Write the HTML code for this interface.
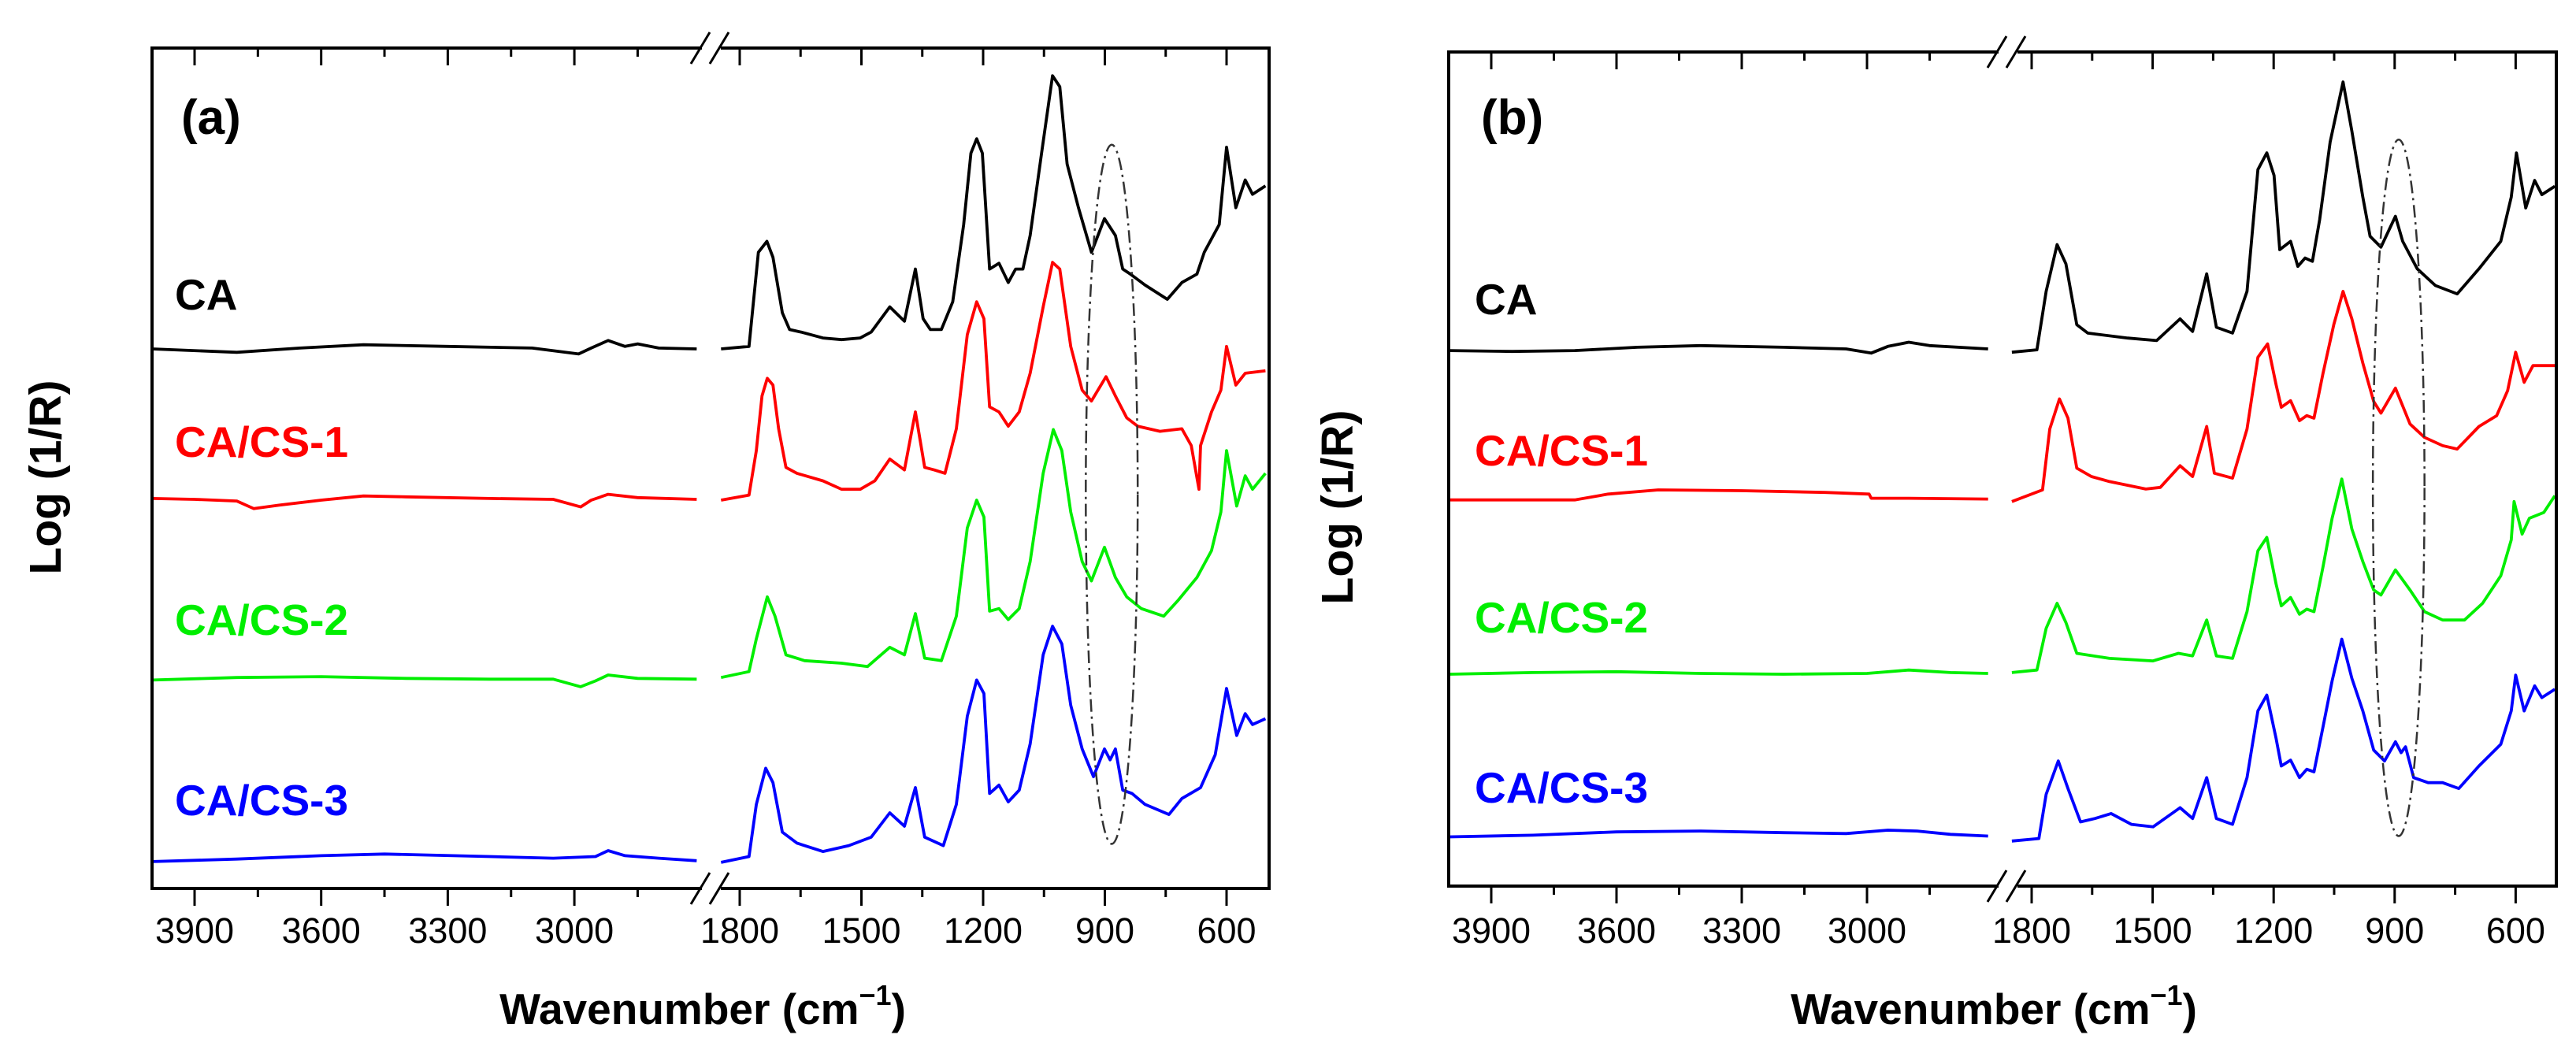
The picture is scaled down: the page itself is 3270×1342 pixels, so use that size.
<!DOCTYPE html>
<html>
<head>
<meta charset="utf-8">
<style>
html,body{margin:0;padding:0;background:#fff;}
svg{display:block;}
text{font-family:"Liberation Sans",Arial,sans-serif;}
</style>
</head>
<body>
<svg id="chart" width="3270" height="1342" viewBox="0 0 3270 1342" xmlns="http://www.w3.org/2000/svg"></svg>
<script>
// ---------- data (wavenumber, relative Log(1/R) in % of panel height) ----------
const majorTicksLeft = [3900, 3600, 3300, 3000];
const minorTicksLeft = [3750, 3450, 3150, 2850];
const majorTicksRight = [1800, 1500, 1200, 900, 600];
const minorTicksRight = [1650, 1350, 1050, 750];
const seriesNames = ["CA", "CA/CS-1", "CA/CS-2", "CA/CS-3"];
const seriesColors = ["#000000", "#ff0000", "#00ee00", "#0000ff"];

// panel (a)
const aCA_left = [[4000,64.2],[3800,63.8],[3650,64.3],[3500,64.7],[3300,64.5],[3100,64.3],[2990,63.6],[2960,64.3],[2920,65.2],[2880,64.5],[2850,64.8],[2800,64.3],[2710,64.2]];
const aCS1_left = [[4000,46.4],[3900,46.3],[3800,46.1],[3760,45.2],[3700,45.6],[3600,46.2],[3500,46.7],[3400,46.6],[3200,46.4],[3050,46.3],[2985,45.4],[2960,46.2],[2920,46.9],[2850,46.5],[2710,46.3]];
const aCS2_left = [[4000,24.8],[3800,25.1],[3600,25.2],[3400,25.0],[3200,24.9],[3050,24.9],[2985,24.0],[2950,24.7],[2920,25.4],[2850,25.0],[2710,24.9]];
const aCS3_left = [[4000,3.2],[3800,3.5],[3600,3.9],[3450,4.1],[3200,3.8],[3050,3.6],[2950,3.8],[2920,4.5],[2880,3.9],[2800,3.6],[2710,3.3]];

const aCA_right = [[1846,64.2],[1777,64.5],[1754,75.7],[1733,77.0],[1718,75.1],[1695,68.5],[1677,66.5],[1649,66.2],[1595,65.5],[1549,65.3],[1503,65.5],[1476,66.2],[1430,69.2],[1394,67.5],[1367,73.7],[1348,67.8],[1330,66.5],[1303,66.5],[1275,69.8],[1248,79.0],[1230,87.5],[1216,89.2],[1202,87.5],[1184,73.7],[1161,74.4],[1138,72.1],[1120,73.7],[1102,73.7],[1084,77.7],[1056,87.5],[1029,96.7],[1011,95.4],[993,86.2],[965,81.0],[933,75.7],[901,79.7],[874,77.7],[856,73.7],[837,73.1],[801,71.8],[746,70.1],[710,72.1],[673,73.1],[655,75.7],[618,79.0],[600,88.2],[577,81.0],[554,84.3],[536,82.6],[504,83.6]];
const aCS1_right = [[1846,46.2],[1777,46.8],[1759,52.1],[1745,58.6],[1732,60.7],[1718,59.9],[1704,54.7],[1686,50.1],[1659,49.4],[1595,48.5],[1549,47.5],[1503,47.5],[1467,48.5],[1430,51.1],[1394,49.8],[1367,56.7],[1344,50.1],[1321,49.8],[1294,49.4],[1266,54.7],[1239,65.9],[1216,69.8],[1198,67.8],[1184,57.3],[1161,56.7],[1138,55.0],[1111,56.7],[1084,61.3],[1052,69.2],[1029,74.5],[1011,73.7],[984,64.5],[956,59.3],[933,58.0],[897,60.9],[874,58.6],[846,56.0],[819,55.0],[764,54.4],[710,54.7],[687,52.7],[668,47.5],[664,52.7],[637,56.7],[614,59.3],[600,64.5],[577,59.9],[554,61.3],[504,61.6]];
const aCS2_right = [[1846,25.1],[1777,25.8],[1759,29.7],[1732,34.7],[1713,32.4],[1686,27.8],[1640,27.1],[1549,26.8],[1485,26.4],[1430,28.7],[1394,27.8],[1367,32.7],[1344,27.4],[1303,27.1],[1266,32.4],[1239,42.9],[1216,46.2],[1198,44.2],[1184,33.0],[1161,33.3],[1138,32.0],[1111,33.3],[1084,38.9],[1052,49.4],[1027,54.6],[1006,52.1],[984,44.8],[956,38.9],[933,36.6],[901,40.6],[874,37.0],[846,34.7],[810,33.3],[755,32.4],[719,34.3],[673,37.0],[637,40.2],[614,44.8],[600,52.1],[575,45.5],[554,49.1],[536,47.5],[504,49.4]];
const aCS3_right = [[1846,3.1],[1777,3.8],[1759,10.0],[1736,14.3],[1718,12.6],[1695,6.7],[1659,5.4],[1595,4.4],[1531,5.1],[1476,6.1],[1430,9.0],[1394,7.4],[1367,12.0],[1344,6.1],[1298,5.1],[1266,10.0],[1239,20.5],[1216,24.8],[1198,23.2],[1184,11.3],[1161,12.3],[1138,10.3],[1111,11.7],[1084,17.2],[1052,27.8],[1029,31.2],[1006,29.1],[984,21.8],[956,16.6],[928,13.3],[901,16.6],[887,15.3],[874,16.6],[856,11.7],[833,11.3],[801,10.0],[742,8.8],[710,10.7],[664,12.0],[628,15.9],[600,23.8],[575,18.2],[554,20.8],[536,19.5],[504,20.2]];

// panel (b)
const bCA_left = [[4000,64.2],[3850,64.1],[3700,64.2],[3550,64.6],[3400,64.8],[3200,64.6],[3050,64.4],[2990,63.9],[2950,64.7],[2900,65.2],[2850,64.8],[2710,64.4]];
const bCS1_left = [[4000,46.3],[3800,46.3],[3700,46.3],[3620,47.0],[3500,47.5],[3300,47.4],[3100,47.2],[2995,47.0],[2990,46.5],[2900,46.5],[2710,46.4]];
const bCS2_left = [[4000,25.4],[3800,25.6],[3600,25.7],[3400,25.5],[3200,25.4],[3000,25.5],[2900,25.9],[2800,25.6],[2710,25.5]];
const bCS3_left = [[4000,5.9],[3800,6.1],[3600,6.5],[3400,6.6],[3200,6.4],[3050,6.3],[2950,6.7],[2880,6.6],[2800,6.2],[2710,6.0]];

const bCA_right = [[1849,64.0],[1787,64.3],[1764,71.3],[1737,76.9],[1715,74.6],[1688,67.3],[1661,66.3],[1562,65.7],[1490,65.4],[1432,68.0],[1401,66.5],[1366,73.4],[1342,67.0],[1302,66.3],[1266,71.3],[1239,85.9],[1217,87.9],[1199,85.2],[1185,76.3],[1158,77.3],[1140,74.3],[1122,75.3],[1104,74.9],[1086,79.9],[1060,89.2],[1028,96.4],[1006,90.5],[979,82.6],[961,77.9],[934,76.6],[898,80.3],[880,77.3],[844,74.0],[799,72.0],[745,71.0],[691,74.0],[637,77.3],[611,82.6],[598,87.9],[575,81.3],[553,84.6],[535,82.9],[503,83.9]];
const bCS1_right = [[1849,46.1],[1773,47.5],[1755,54.8],[1731,58.4],[1710,56.1],[1688,50.1],[1652,49.1],[1607,48.5],[1517,47.6],[1481,47.8],[1432,50.4],[1401,49.1],[1366,55.1],[1347,49.5],[1302,48.9],[1266,54.8],[1239,63.4],[1215,65.0],[1194,60.1],[1181,57.4],[1158,58.2],[1136,55.8],[1118,56.4],[1100,56.1],[1078,61.4],[1051,67.3],[1028,71.3],[1006,68.0],[979,62.7],[952,58.1],[934,56.7],[898,59.7],[862,55.4],[826,53.8],[781,52.8],[745,52.4],[691,55.1],[647,56.4],[620,59.4],[600,64.0],[579,60.4],[557,62.4],[503,62.4]];
const bCS2_right = [[1849,25.6],[1787,25.9],[1764,30.9],[1737,33.9],[1715,31.6],[1688,27.9],[1607,27.3],[1499,27.0],[1436,27.9],[1401,27.6],[1366,31.9],[1342,27.6],[1302,27.3],[1266,32.9],[1239,40.2],[1217,41.8],[1194,36.2],[1181,33.6],[1158,34.6],[1136,32.6],[1118,33.2],[1100,32.9],[1078,38.2],[1055,44.1],[1031,48.8],[1006,42.8],[979,38.9],[952,35.5],[934,34.9],[898,37.9],[862,35.5],[826,32.9],[781,31.9],[727,31.9],[682,33.9],[637,37.2],[611,41.5],[604,46.1],[584,42.2],[566,44.1],[530,44.8],[503,46.8]];
const bCS3_right = [[1849,5.4],[1782,5.7],[1764,11.0],[1734,15.0],[1710,11.7],[1679,7.7],[1643,8.1],[1603,8.7],[1553,7.4],[1499,7.1],[1432,9.4],[1401,8.1],[1366,13.0],[1342,8.1],[1302,7.4],[1266,13.0],[1239,21.0],[1217,22.9],[1194,17.7],[1181,14.4],[1158,15.1],[1136,13.0],[1118,14.0],[1100,13.7],[1078,19.0],[1055,24.6],[1031,29.6],[1006,24.9],[979,21.0],[952,16.3],[925,15.0],[898,17.3],[884,16.0],[873,16.7],[853,13.0],[817,12.4],[781,12.4],[741,11.7],[691,14.4],[637,17.0],[611,21.0],[600,25.3],[579,21.0],[553,24.0],[535,22.6],[503,23.6]];

// highlight ellipse: [centre wavenumber, half-width cm-1, top value, bottom value]
const aEllipse = [883, 64, 88.5, 5.3];
const bEllipse = [890, 64, 89.5, 6.0];

// ---------- layout ----------
const NS = "http://www.w3.org/2000/svg";
const svg = document.getElementById("chart");
function mk(tag, attrs, parent) {
  const e = document.createElementNS(NS, tag);
  for (const k in attrs) e.setAttribute(k, attrs[k]);
  (parent || svg).appendChild(e);
  return e;
}

const panels = [
  { id: "a", left: 193, top: 61, right: 1611, bottom: 1128,
    lx0: 247, lpx: 160.7, rx0: 939, rpx: 154.5, brk: 903,
    labelX: 222, labelY: [393, 580, 806, 1035], tag: "(a)", tagX: 230, tagY: 170,
    yTitle: [58, 606], xTitleX: 892,
    series: [[aCA_left, aCA_right], [aCS1_left, aCS1_right], [aCS2_left, aCS2_right], [aCS3_left, aCS3_right]],
    ell: aEllipse },
  { id: "b", left: 1839, top: 66, right: 3245, bottom: 1125,
    lx0: 1893, lpx: 159, rx0: 2579, rpx: 153.6, brk: 2549,
    labelX: 1872, labelY: [399, 591, 803, 1019], tag: "(b)", tagX: 1880, tagY: 170,
    yTitle: [1698, 644], xTitleX: 2531,
    series: [[bCA_left, bCA_right], [bCS1_left, bCS1_right], [bCS2_left, bCS2_right], [bCS3_left, bCS3_right]],
    ell: bEllipse }
];

panels.forEach(p => {
  const g = mk("g", {});
  
  
  const xL = wn => p.lx0 + (3900 - wn) * p.lpx / 300;
  const xR = wn => p.rx0 + (1800 - wn) * p.rpx / 300;
  const y = v => p.bottom - v / 100 * (p.bottom - p.top);

  p.series.forEach((pair, i) => {
    [[pair[0], xL, 'left'], [pair[1], xR, 'right']].forEach(([data, fx, seg]) => {
      const d = data.map((pt, j) => (j ? "L" : "M") + fx(pt[0]).toFixed(1) + " " + y(pt[1]).toFixed(1)).join(" ");
      const path = mk("path", { d: d, fill: "none", stroke: seriesColors[i], "stroke-width": 3.8, "stroke-linejoin": "round" }, g);
      
      
    });
    const t = mk("text", { x: p.labelX, y: p.labelY[i], "font-size": 55, "font-weight": "bold", fill: seriesColors[i] }, g);
    t.textContent = seriesNames[i];
    
    
  });

  const ey1 = y(p.ell[2]), ey2 = y(p.ell[3]);
  const ecx = xR(p.ell[0]), erx = p.ell[1] * p.rpx / 300;
  const el = mk("ellipse", { cx: ecx, cy: (ey1 + ey2) / 2, rx: erx, ry: (ey2 - ey1) / 2, fill: "none", stroke: "#333", "stroke-width": 2.5, "stroke-dasharray": "16 6 3 6" }, g);
  
  

  const fr = mk("g", { stroke: "#000", "stroke-width": 4, fill: "none" }, g);
  
  
  mk("line", { x1: p.left, y1: p.top, x2: p.left, y2: p.bottom }, fr);
  mk("line", { x1: p.right, y1: p.top, x2: p.right, y2: p.bottom }, fr);
  [p.top, p.bottom].forEach(yy => {
    mk("line", { x1: p.left - 2, y1: yy, x2: p.brk - 12, y2: yy }, fr);
    mk("line", { x1: p.brk + 12, y1: yy, x2: p.right + 2, y2: yy }, fr);
    mk("rect", { x: p.brk - 12, y: yy - 4, width: 24, height: 8, fill: "#fff", stroke: "none" }, fr);
    mk("line", { x1: p.brk - 26, y1: yy + 20, x2: p.brk - 2, y2: yy - 20, "stroke-width": 3 }, fr);
    mk("line", { x1: p.brk - 2, y1: yy + 20, x2: p.brk + 22, y2: yy - 20, "stroke-width": 3 }, fr);
  });

  const tk = mk("g", { stroke: "#000", "stroke-width": 3 }, g);
  
  
  const tickAt = (x, len) => {
    mk("line", { x1: x, y1: p.top, x2: x, y2: p.top + len }, tk);
    mk("line", { x1: x, y1: p.bottom, x2: x, y2: p.bottom + len }, tk);
  };
  majorTicksLeft.forEach(w => tickAt(xL(w), 22));
  minorTicksLeft.forEach(w => tickAt(xL(w), 11));
  majorTicksRight.forEach(w => tickAt(xR(w), 22));
  minorTicksRight.forEach(w => tickAt(xR(w), 11));

  const labs = mk("g", { "font-size": 45, fill: "#000", "text-anchor": "middle" }, g);
  
  
  majorTicksLeft.forEach(w => { const t = mk("text", { x: xL(w), y: 1197 }, labs); t.textContent = w; });
  majorTicksRight.forEach(w => { const t = mk("text", { x: xR(w), y: 1197 }, labs); t.textContent = w; });

  const xt = mk("text", { x: p.xTitleX, y: 1300, "font-size": 55, "font-weight": "bold", "text-anchor": "middle" }, g);
  
  
  xt.innerHTML = 'Wavenumber (cm<tspan font-size="36" dy="-24">−1</tspan><tspan dy="24">)</tspan>';

  const yt = mk("text", { x: 0, y: 0, "font-size": 57, "font-weight": "bold", "text-anchor": "middle", "dominant-baseline": "central", transform: "translate(" + p.yTitle[0] + "," + p.yTitle[1] + ") rotate(-90)" }, g);
  
  
  yt.textContent = "Log (1/R)";

  const tg = mk("text", { x: p.tagX, y: p.tagY, "font-size": 62, "font-weight": "bold" }, g);
  
  
  tg.textContent = p.tag;
});
</script>
</body>
</html>
